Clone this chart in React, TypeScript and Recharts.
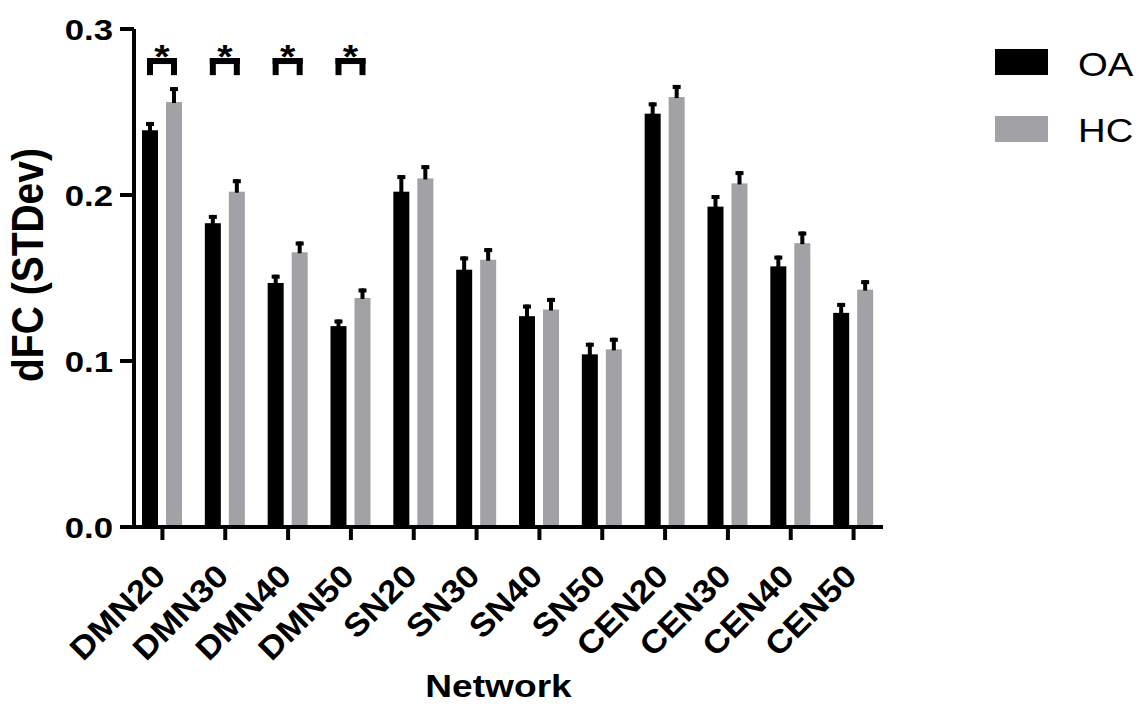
import React from 'react';
import { BarChart, Bar, XAxis, YAxis, Label } from 'recharts';

const categories = ['DMN20', 'DMN30', 'DMN40', 'DMN50', 'SN20', 'SN30', 'SN40', 'SN50', 'CEN20', 'CEN30', 'CEN40', 'CEN50'];
const oaMean = [0.239, 0.183, 0.147, 0.121, 0.202, 0.155, 0.127, 0.104, 0.249, 0.193, 0.157, 0.129];
const oaSem = [0.005, 0.005, 0.005, 0.004, 0.010, 0.008, 0.007, 0.007, 0.0068, 0.007, 0.0065, 0.006];
const hcMean = [0.256, 0.202, 0.1655, 0.138, 0.210, 0.161, 0.131, 0.107, 0.259, 0.207, 0.171, 0.143];
const hcSem = [0.009, 0.0075, 0.0065, 0.0057, 0.008, 0.007, 0.007, 0.007, 0.0073, 0.0074, 0.007, 0.0057];
const significant = [true, true, true, true, false, false, false, false, false, false, false, false];
const bracketLevel = 0.2825;
const bracketLegDrop = 0.0103;
const yTicks = [0, 0.1, 0.2, 0.3];
const seriesNames = ['OA', 'HC'];
const seriesColors = ['#000000', '#a2a1a6'];

const data = categories.map((c, i) => ({
  name: c,
  OA: oaMean[i],
  OAerr: oaSem[i],
  HC: hcMean[i],
  HCerr: hcSem[i],
  sig: significant[i],
}));

const SX = 1.16;
const FONT = '"Liberation Sans", Arial, Helvetica, sans-serif';
const BAR_SIZE = 16;
const BAR_GAP = 8;

function makeShape(key: string, errKey: string, fill: string, first: boolean) {
  return (props: any) => {
    const { x, y, width, height, payload } = props;
    const value = payload[key];
    if (!value || !height) return <g />;
    const k = height / value;
    const base = y + height;
    const cx = x + width / 2;
    const eTop = y - payload[errKey] * k;
    const parts: any[] = [
      <rect key="b" x={x} y={y} width={width} height={Math.max(0, height - 2)} fill={fill} />,
      <rect key="s" x={cx - 2} y={eTop} width={4} height={y - eTop + 1} fill="#000" />,
      <rect key="c" x={cx - 4} y={eTop} width={8} height={4} fill="#000" />,
    ];
    if (first && payload.sig) {
      const topY = base - bracketLevel * k;
      const legY = base - (bracketLevel - bracketLegDrop) * k;
      const lx = cx;
      const rx = cx + width + BAR_GAP;
      parts.push(
        <rect key="bt" x={lx - 3} y={topY} width={rx - lx + 6} height={6} fill="#000" />,
        <rect key="bl" x={lx - 3} y={topY} width={6} height={legY - topY} fill="#000" />,
        <rect key="br" x={rx - 3} y={topY} width={6} height={legY - topY} fill="#000" />,
        <text
          key="st"
          transform={`translate(${(lx + rx) / 2},${topY + 10}) scale(${SX},1)`}
          textAnchor="middle"
          fontFamily={FONT}
          fontWeight="bold"
          fontSize={34}
          fill="#000"
        >
          *
        </text>
      );
    }
    return <g>{parts}</g>;
  };
}

const XTick = (props: any) => {
  const { x, y, payload } = props;
  return (
    <text
      transform={`translate(${x + 5},${y + 38}) rotate(-45) scale(1.1,1)`}
      textAnchor="end"
      fontFamily={FONT}
      fontWeight="bold"
      fontSize={32}
      fill="#000"
    >
      {payload.value}
    </text>
  );
};

const YTick = (props: any) => {
  const { x, y, payload } = props;
  return (
    <text
      transform={`translate(${x},${y + 11}) scale(${SX},1)`}
      textAnchor="end"
      fontFamily={FONT}
      fontWeight="bold"
      fontSize={30}
      fill="#000"
    >
      {Number(payload.value).toFixed(1)}
    </text>
  );
};

const LegendBox = () => (
  <svg width={154} height={120} style={{ position: 'absolute', left: 990, top: 40, display: 'block' }}>
    {seriesNames.map((n, i) => (
      <g key={n}>
        <rect x={5} y={9 + i * 67} width={53} height={26} fill={seriesColors[i]} />
        <text
          transform={`translate(88,${35.5 + i * 66.5}) scale(${SX},1)`}
          fontFamily={FONT}
          fontSize={33}
          fill="#000"
        >
          {n}
        </text>
      </g>
    ))}
  </svg>
);

export default function App() {
  return (
    <div style={{ position: 'absolute', left: 0, top: 0, width: 1144, height: 713, background: '#fff' }}>
      <BarChart
        width={1144}
        height={713}
        data={data}
        margin={{ top: 29, right: 261, bottom: 86, left: 54 }}
        barSize={BAR_SIZE}
        barGap={BAR_GAP}
      >
        <XAxis
          dataKey="name"
          height={100}
          padding={{ left: -3, right: -2 }}
          axisLine={{ stroke: '#000', strokeWidth: 4 }}
          tickLine={{ stroke: '#000', strokeWidth: 4 }}
          tickSize={13}
          tickMargin={0}
          interval={0}
          tick={<XTick />}
        >
          <Label
            content={() => (
              <text
                transform={`translate(498.5,697) scale(${SX},1)`}
                textAnchor="middle"
                fontFamily={FONT}
                fontWeight="bold"
                fontSize={32}
                fill="#000"
              >
                Network
              </text>
            )}
          />
        </XAxis>
        <YAxis
          width={80}
          domain={[0, 0.3]}
          ticks={yTicks}
          axisLine={{ stroke: '#000', strokeWidth: 4 }}
          tickLine={{ stroke: '#000', strokeWidth: 4 }}
          tickSize={14}
          tickMargin={7}
          tick={<YTick />}
        >
          <Label
            content={() => (
              <text
                transform={`translate(43,265) scale(${SX},1) rotate(-90)`}
                textAnchor="middle"
                fontFamily={FONT}
                fontWeight="bold"
                fontSize={39}
                fill="#000"
              >
                dFC (STDev)
              </text>
            )}
          />
        </YAxis>
        <Bar dataKey="OA" fill={seriesColors[0]} isAnimationActive={false} shape={makeShape('OA', 'OAerr', seriesColors[0], true)} />
        <Bar dataKey="HC" fill={seriesColors[1]} isAnimationActive={false} shape={makeShape('HC', 'HCerr', seriesColors[1], false)} />
      </BarChart>
      <LegendBox />
    </div>
  );
}
